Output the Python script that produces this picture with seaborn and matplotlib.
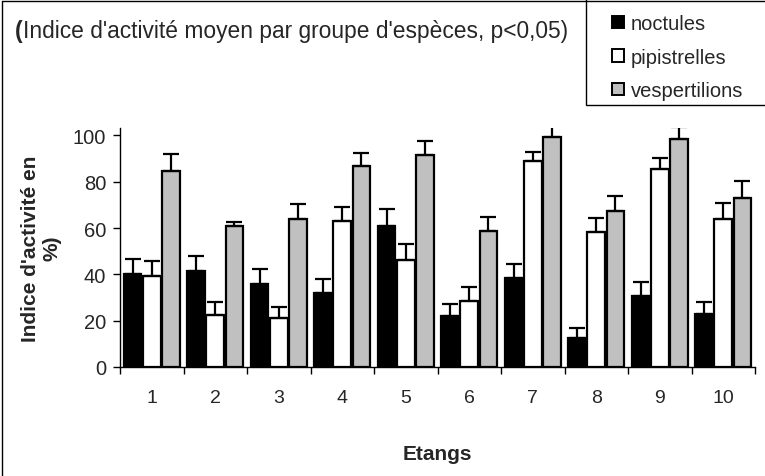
import matplotlib
matplotlib.use("Agg")
import matplotlib.pyplot as plt
from matplotlib.patches import Patch, Rectangle
from matplotlib.lines import Line2D
import numpy as np
import pandas as pd
import seaborn as sns

# Mean activity index (%) per pond and species group, with upper error bar tops
etangs = ["1", "2", "3", "4", "5", "6", "7", "8", "9", "10"]
groupes = ["noctules", "pipistrelles", "vespertilions"]
noctules = [40.3, 41.4, 35.8, 32.1, 60.7, 22.0, 38.3, 12.5, 30.8, 22.7]
pipistrelles = [39.4, 22.4, 21.3, 63.2, 46.2, 28.6, 88.8, 58.1, 85.6, 63.9]
vespertilions = [84.5, 60.7, 64.0, 86.9, 91.4, 58.7, 99.1, 67.5, 98.6, 73.1]
err_noctules = [6.3, 6.7, 6.5, 5.9, 7.4, 5.2, 6.3, 4.3, 5.9, 5.2]
err_pipistrelles = [6.4, 5.5, 4.7, 5.7, 6.9, 5.9, 3.9, 6.2, 4.8, 6.7]
err_vespertilions = [7.3, 2.0, 6.4, 5.5, 6.3, 6.0, 5.0, 6.2, 5.0, 7.2]

colors = ["#000000", "#ffffff", "#c0c0c0"]

sns.set_theme(style="white")
plt.rcParams["font.family"] = ["Liberation Sans", "DejaVu Sans"]

W, H = 765, 477

df = pd.DataFrame({
    "Etangs": etangs * 3,
    "groupe": [g for g in groupes for _ in etangs],
    "indice": noctules + pipistrelles + vespertilions,
})
errs = {"noctules": err_noctules, "pipistrelles": err_pipistrelles,
        "vespertilions": err_vespertilions}

fig = plt.figure(figsize=(W / 100, H / 100), dpi=100)
ax = fig.add_axes([120 / W, (H - 368) / H, 635 / W, 238.6 / H])

sns.barplot(data=df, x="Etangs", y="indice", hue="groupe", order=etangs,
            hue_order=groupes, palette=colors, width=0.9, gap=0.08,
            edgecolor="black", linewidth=1.6, errorbar=None, legend=False, ax=ax)

# one-sided (upper) error bars on each bar
for cont, g in zip(ax.containers, groupes):
    xs = [p.get_x() + p.get_width() / 2 for p in cont.patches]
    hs = [p.get_height() for p in cont.patches]
    ax.errorbar(xs, hs, yerr=[np.zeros(len(hs)), errs[g]], fmt="none",
                ecolor="black", elinewidth=1.6, capsize=5.5, capthick=1.6,
                zorder=1)

ax.set_xlim(-0.5, len(etangs) - 0.5)
ax.set_ylim(0, 103)
ax.set_yticks([0, 20, 40, 60, 80, 100])
ax.set_xticks(range(len(etangs)))
ax.set_xticklabels(etangs)
ax.set_xticks(np.arange(-0.5, len(etangs)), minor=True)
ax.tick_params(axis="x", which="major", length=0, pad=16, labelsize=14)
ax.tick_params(axis="x", which="minor", length=5, width=1, color="black",
               direction="out", bottom=True)
ax.tick_params(axis="y", length=5, width=1, color="black", direction="out",
               left=True, labelsize=14.5, pad=5)
for s in ["top", "right"]:
    ax.spines[s].set_visible(False)
for s in ["left", "bottom"]:
    ax.spines[s].set_color("black")
    ax.spines[s].set_linewidth(1)

ax.set_xlabel("Etangs", fontsize=15, fontweight="bold")
ax.xaxis.set_label_coords(0.5, (368 - 445) / 238.6)
ax.set_ylabel("Indice d'activité en\n%)", fontsize=15, fontweight="bold",
              linespacing=1.15)
ax.yaxis.set_label_coords((61 - 120) / 635, 0.5)

# title with a bold opening parenthesis
t1 = fig.text(15 / W, 1 - 38 / H, "(", fontsize=16.4, fontweight="bold",
              va="baseline")
ax.annotate("Indice d'activité moyen par groupe d'espèces, p<0,05)",
            xy=(1, 0), xycoords=t1, va="bottom", ha="left", fontsize=16.4,
            annotation_clip=False)

# legend box in the top-right corner
fig.add_artist(Rectangle((586 / W, 1 - 106 / H), 200 / W, 110 / H,
                         transform=fig.transFigure, facecolor="white",
                         edgecolor="black", linewidth=1, zorder=2))
handles = [Patch(facecolor=c, edgecolor="black", linewidth=1.4) for c in colors]
leg = fig.legend(handles, groupes, loc="upper left",
                 bbox_to_anchor=(612 / W, 1 - 15 / H), frameon=False,
                 fontsize=14.5, handlelength=0.6, handleheight=0.6,
                 handletextpad=0.35, labelspacing=0.72, borderpad=0,
                 borderaxespad=0)
leg.set_zorder(3)

# outer chart frame (top and left edges)
fig.add_artist(Line2D([1.5 / W, 1], [1 - 1.5 / H, 1 - 1.5 / H],
                      color="black", lw=1, transform=fig.transFigure, zorder=4))
fig.add_artist(Line2D([1.5 / W, 1.5 / W], [0, 1 - 1.5 / H],
                      color="black", lw=1, transform=fig.transFigure, zorder=4))

fig.savefig("out.png", dpi=100, facecolor="white")
